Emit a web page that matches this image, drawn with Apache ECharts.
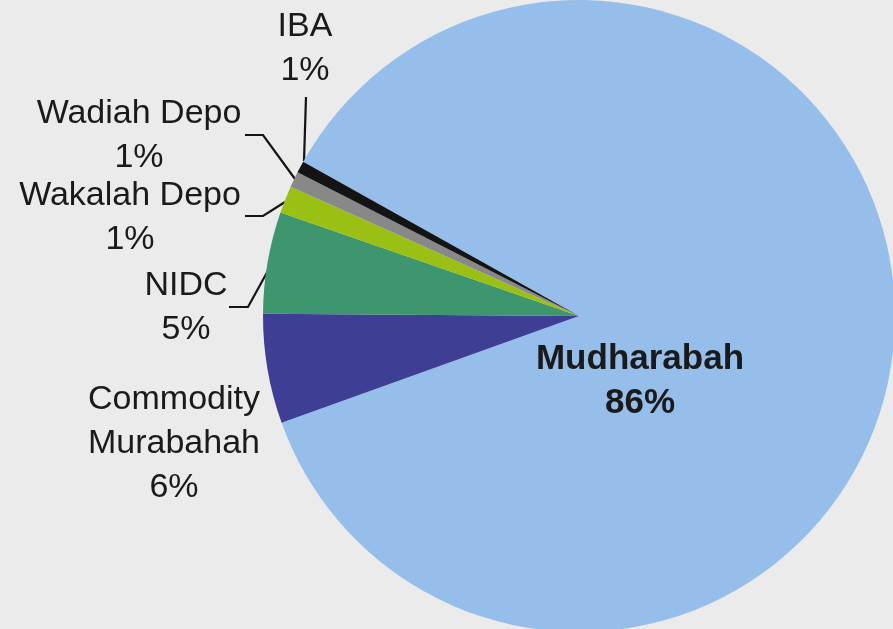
<!DOCTYPE html>
<html>
<head>
<meta charset="utf-8">
<script src="https://cdn.jsdelivr.net/npm/echarts@6/dist/echarts.min.js"></script>
<style>
html,body{margin:0;padding:0;background:#ebebeb;}
#chart{width:893px;height:629px;}
</style>
</head>
<body>
<div id="chart"></div>
<script>
// Data (clockwise order starting from Mudharabah)
const categories = ['Mudharabah', 'Commodity Murabahah', 'NIDC', 'Wakalah Depo', 'Wadiah Depo', 'IBA'];
const values = [86.4, 5.6, 5.2, 1.4, 0.8, 0.6];
const colors = ['#95bfea', '#3e3e94', '#3e966e', '#9bc014', '#888888', '#141414'];

// Label placement (layout, not data)
const labelPos = {
  'Mudharabah': { x: 640, y: 380, line: null },
  'Commodity Murabahah': { x: 174, y: 443, line: null },
  'NIDC': { x: 186, y: 307, line: [[270, 267], [248, 307], [229, 307]] },
  'Wakalah Depo': { x: 130, y: 217, line: [[285, 202], [263, 216], [245, 216]] },
  'Wadiah Depo': { x: 139, y: 135, line: [[295, 179], [263, 135], [245, 135]] },
  'IBA': { x: 305, y: 48, line: [[304, 161], [306, 97]] }
};

const chart = echarts.init(document.getElementById('chart'));
const data = categories.map((name, i) => ({
  name: name,
  value: values[i],
  itemStyle: { color: colors[i] },
  label: name === 'Mudharabah' ? { fontWeight: 'bold', fontSize: 35 } : {},
  labelLine: { show: !!labelPos[name].line }
}));

chart.setOption({
  backgroundColor: '#ebebeb',
  animation: false,
  series: [{
    type: 'pie',
    center: [579, 316],
    radius: 316,
    startAngle: 150.8,
    clockwise: true,
    percentPrecision: 0,
    avoidLabelOverlap: false,
    data: data,
    itemStyle: { borderWidth: 0 },
    label: {
      show: true,
      position: 'outside',
      color: '#1a1a1a',
      fontFamily: '"Liberation Sans", Arial, sans-serif',
      fontSize: 34,
      lineHeight: 44,
      align: 'center',
      formatter: function (p) {
        const nm = p.name === 'Commodity Murabahah' ? 'Commodity\nMurabahah' : p.name;
        return nm + '\n' + p.percent + '%';
      }
    },
    labelLine: {
      show: true,
      lineStyle: { color: '#141414', width: 2.2 }
    },
    labelLayout: function (params) {
      const name = categories[params.dataIndex];
      const pos = labelPos[name];
      const out = { x: pos.x, y: pos.y + 1, align: 'center', verticalAlign: 'middle' };
      if (pos.line) out.labelLinePoints = pos.line;
      return out;
    }
  }]
});
</script>
</body>
</html>
